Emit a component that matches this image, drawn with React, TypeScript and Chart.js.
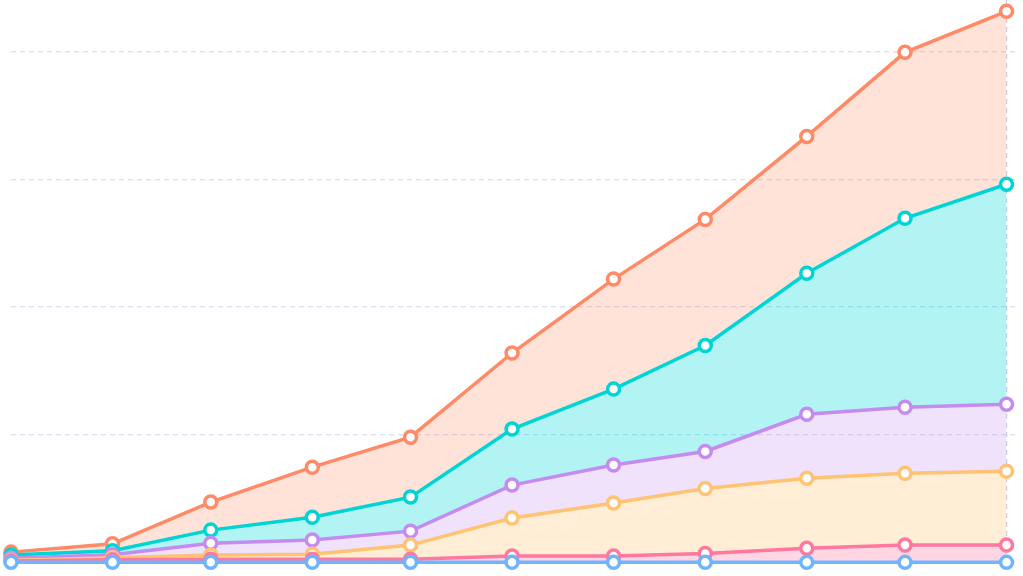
import React, { useEffect, useRef } from "react";
import { Chart, registerables } from "chart.js";

Chart.register(...registerables);

// Monthly sample dates (first of each month)
const dates = [
  "2022-08-01", "2022-09-01", "2022-10-01", "2022-11-01", "2022-12-01",
  "2023-01-01", "2023-02-01", "2023-03-01", "2023-04-01", "2023-05-01", "2023-06-01",
];

// Stacked series values (bottom to top)
const blueValues = [0.5, 0.5, 0.5, 0.5, 0.5, 0.5, 0.5, 0.5, 0.5, 0.5, 0.5];
const pinkValues = [1, 2, 2.5, 2.5, 2.5, 5, 5, 7, 11, 13.5, 13.5];
const yellowValues = [0.7, 1.6, 3.2, 3.9, 11, 29.7, 41.4, 50.8, 54.7, 56.2, 57.8];
const purpleValues = [1.6, 2.4, 9.3, 11, 10.9, 25.7, 29.7, 28.9, 50, 51.6, 52.3];
const cyanValues = [2.4, 3.1, 10.2, 17.9, 26.6, 43.8, 59.3, 82.8, 110.2, 147.6, 171.9];
const salmonValues = [2.3, 5.4, 21.9, 39.1, 46.8, 59.4, 86, 98.5, 107, 129.7, 135.2];

const Y_MAX = 440;
const Y_STEP = 100;

const DAY = 86400000;
const toDay = (s: string) => Date.parse(s + "T00:00:00Z") / DAY;
const dayValues = dates.map(toDay);

const series = [
  { label: "A", values: blueValues, line: "rgb(110,180,255)", fill: "rgba(110,180,255,0.3)" },
  { label: "B", values: pinkValues, line: "rgb(255,120,160)", fill: "rgba(255,120,160,0.3)" },
  { label: "C", values: yellowValues, line: "rgb(255,195,115)", fill: "rgba(255,195,115,0.3)" },
  { label: "D", values: purpleValues, line: "rgb(196,140,240)", fill: "rgba(196,140,240,0.25)" },
  { label: "E", values: cyanValues, line: "rgb(0,212,212)", fill: "rgba(0,214,214,0.3)" },
  { label: "F", values: salmonValues, line: "rgb(255,138,101)", fill: "rgba(255,138,101,0.25)" },
];

export default function App() {
  const ref = useRef<HTMLCanvasElement | null>(null);

  useEffect(() => {
    if (!ref.current) return;
    const lastDay = dayValues[dayValues.length - 1];
    const chart = new Chart(ref.current, {
      type: "line",
      data: {
        datasets: series.map((s, i) => ({
          label: s.label,
          data: s.values.map((v, j) => ({ x: dayValues[j], y: v })),
          borderColor: s.line,
          backgroundColor: s.fill,
          fill: i === 0 ? "origin" : "-1",
          borderWidth: 3.5,
          tension: 0,
          pointRadius: 6,
          pointBorderWidth: 3.5,
          pointBackgroundColor: "#ffffff",
          pointBorderColor: s.line,
          clip: false,
        })),
      },
      options: {
        animation: false,
        responsive: true,
        maintainAspectRatio: false,
        layout: { autoPadding: false, padding: { left: 11, right: 5, top: 0, bottom: 13 } },
        plugins: {
          legend: { display: false },
          tooltip: { enabled: false },
          title: { display: false },
        },
        scales: {
          x: {
            type: "linear",
            min: dayValues[0],
            max: lastDay + 3.5,
            afterBuildTicks: (scale: any) => {
              scale.ticks = [{ value: lastDay }];
            },
            ticks: { display: false },
            grid: {
              drawTicks: false,
              color: "rgba(185,190,215,0.75)",
              lineWidth: 1.2,
            },
            border: { display: false, dash: [5, 4] },
          },
          y: {
            stacked: true,
            min: 0,
            max: Y_MAX,
            ticks: { display: false, stepSize: Y_STEP },
            grid: {
              drawTicks: false,
              color: (ctx: any) => {
                const v = ctx.tick ? ctx.tick.value : 0;
                return v > 0 && v % Y_STEP === 0 ? "rgba(195,205,240,0.65)" : "rgba(0,0,0,0)";
              },
              lineWidth: 1.2,
            },
            border: { display: false, dash: [5, 4] },
          },
        },
      },
    });
    return () => chart.destroy();
  }, []);

  return (
    <div style={{ position: "absolute", left: 0, top: 0, width: "1023px", height: "576px", background: "#fff" }}>
      <canvas ref={ref} />
    </div>
  );
}
